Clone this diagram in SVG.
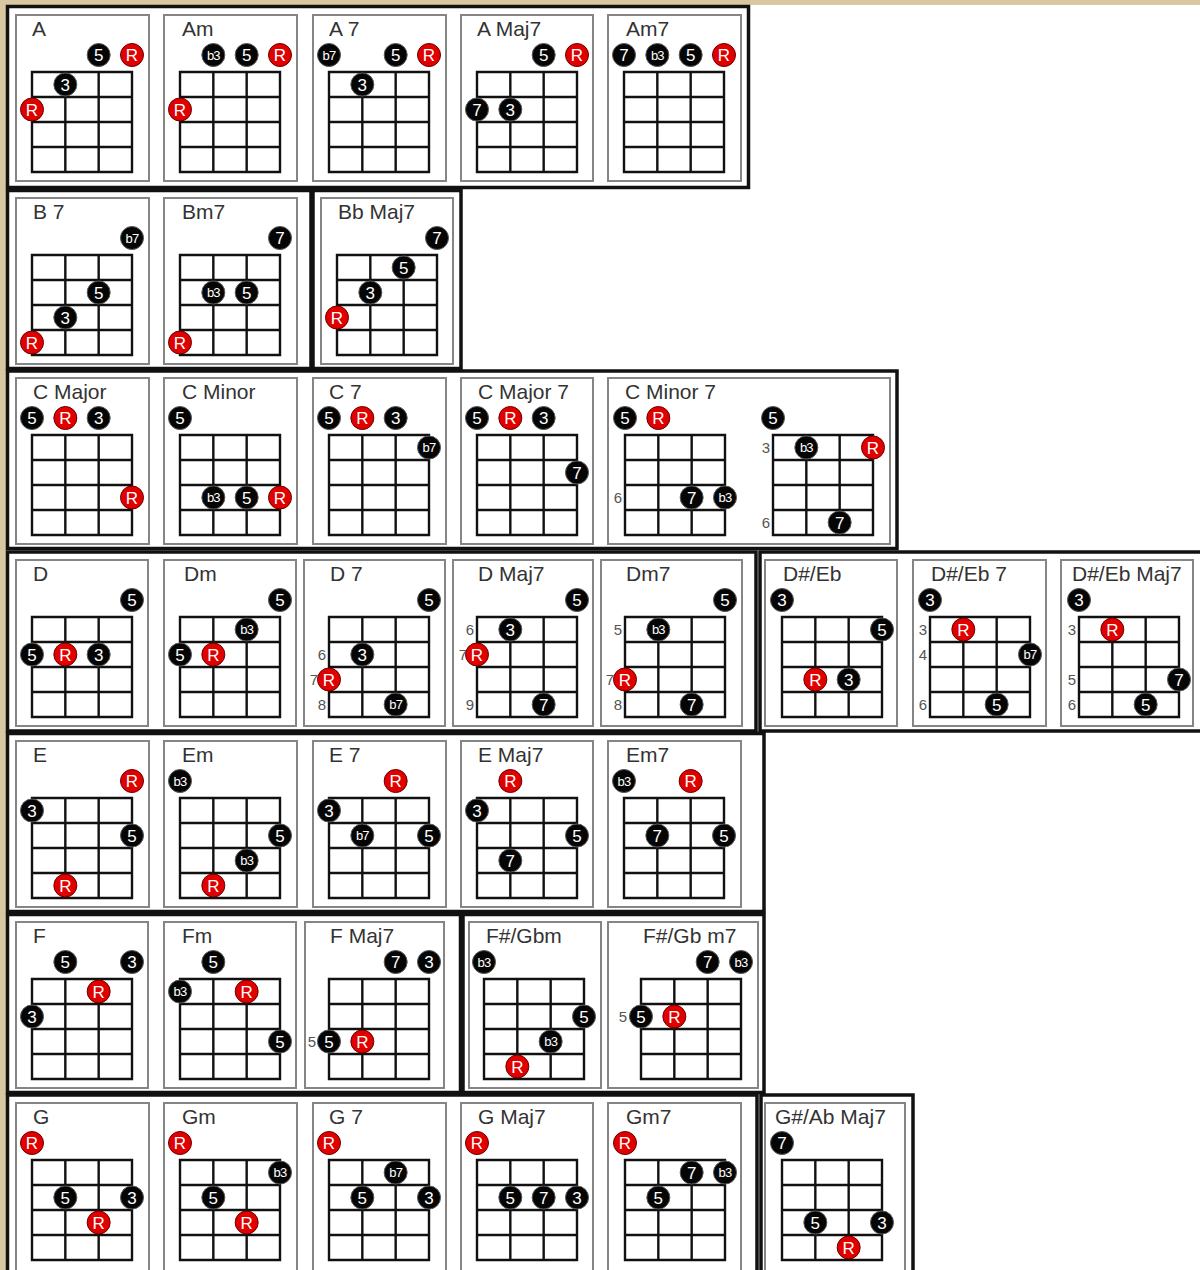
<svg xmlns="http://www.w3.org/2000/svg" xmlns:xlink="http://www.w3.org/1999/xlink" width="1200" height="1270" viewBox="0 0 1200 1270">
<defs>
<style>
.fr{fill:none;stroke:#111;stroke-width:3.5}
.cd{fill:#fff;stroke:#858585;stroke-width:2}
.gr{fill:none;stroke:#111;stroke-width:2.4}
.k{fill:#050505;stroke:#5a5a5a;stroke-width:1}
.r{fill:#e10000;stroke:#6a0000;stroke-width:1}
.t{font-family:"Liberation Sans",Arial,sans-serif;font-size:17px;fill:#fff;text-anchor:middle}
.s{font-size:13px;letter-spacing:-0.8px}
.ti{font-family:"Liberation Sans",Arial,sans-serif;font-size:21px;fill:#333}
.fn{font-family:"Liberation Sans",Arial,sans-serif;font-size:15px;fill:#555;text-anchor:end}
</style>
<symbol id="g" overflow="visible"><path class="gr" d="M0 0H100V100H0Z M33.33 0V100 M66.67 0V100 M0 25H100 M0 50H100 M0 75H100"/></symbol>
</defs>
<rect x="0" y="0" width="1200" height="1270" fill="#fff"/>
<rect x="0" y="0" width="1200" height="5" fill="#d8c7a0"/>
<rect x="0" y="0" width="6" height="1270" fill="#d8c7a0"/>

<g id="frames">
<rect class="fr" x="7.5" y="6.5" width="741" height="181"/>
<rect class="fr" x="7.5" y="190.5" width="303.5" height="178"/>
<rect class="fr" x="313" y="190.5" width="148" height="178"/>
<rect class="fr" x="7.5" y="371" width="889.5" height="177.5"/>
<rect class="fr" x="7.5" y="552" width="748.5" height="179"/>
<rect class="fr" x="760" y="552" width="445" height="179"/>
<rect class="fr" x="7.5" y="733.5" width="756.5" height="178"/>
<rect class="fr" x="7.5" y="914.5" width="453" height="178"/>
<rect class="fr" x="463" y="914.5" width="301" height="178"/>
<rect class="fr" x="7.5" y="1095" width="749.5" height="185"/>
<rect class="fr" x="761" y="1095" width="152" height="185"/>
</g>

<!-- Row 1 -->
<g id="chord-A">
<rect class="cd" x="16" y="15" width="133" height="166"/>
<text class="ti" x="32" y="36">A</text>
<use href="#g" x="32" y="72"/>
<circle class="k" cx="98.67" cy="55" r="11.5"/><text class="t" x="98.67" y="61">5</text>
<circle class="r" cx="132" cy="55" r="11.5"/><text class="t" x="132" y="61">R</text>
<circle class="k" cx="65.33" cy="84.5" r="11.5"/><text class="t" x="65.33" y="90.5">3</text>
<circle class="r" cx="32" cy="109.5" r="11.5"/><text class="t" x="32" y="115.5">R</text>
</g>
<g id="chord-Am">
<rect class="cd" x="164" y="15" width="133" height="166"/>
<text class="ti" x="182" y="36">Am</text>
<use href="#g" x="180" y="72"/>
<circle class="k" cx="213.33" cy="55" r="11.5"/><text class="t s" x="213.33" y="59.5">b3</text>
<circle class="k" cx="246.67" cy="55" r="11.5"/><text class="t" x="246.67" y="61">5</text>
<circle class="r" cx="280" cy="55" r="11.5"/><text class="t" x="280" y="61">R</text>
<circle class="r" cx="180" cy="109.5" r="11.5"/><text class="t" x="180" y="115.5">R</text>
</g>
<g id="chord-A7">
<rect class="cd" x="313" y="15" width="133" height="166"/>
<text class="ti" x="329" y="36">A 7</text>
<use href="#g" x="329" y="72"/>
<circle class="k" cx="329" cy="55" r="11.5"/><text class="t s" x="329" y="59.5">b7</text>
<circle class="k" cx="395.67" cy="55" r="11.5"/><text class="t" x="395.67" y="61">5</text>
<circle class="r" cx="429" cy="55" r="11.5"/><text class="t" x="429" y="61">R</text>
<circle class="k" cx="362.33" cy="84.5" r="11.5"/><text class="t" x="362.33" y="90.5">3</text>
</g>
<g id="chord-AMaj7">
<rect class="cd" x="461" y="15" width="132" height="166"/>
<text class="ti" x="477" y="36">A Maj7</text>
<use href="#g" x="477" y="72"/>
<circle class="k" cx="543.67" cy="55" r="11.5"/><text class="t" x="543.67" y="61">5</text>
<circle class="r" cx="577" cy="55" r="11.5"/><text class="t" x="577" y="61">R</text>
<circle class="k" cx="477" cy="109.5" r="11.5"/><text class="t" x="477" y="115.5">7</text>
<circle class="k" cx="510.33" cy="109.5" r="11.5"/><text class="t" x="510.33" y="115.5">3</text>
</g>
<g id="chord-Am7">
<rect class="cd" x="608" y="15" width="133" height="166"/>
<text class="ti" x="626" y="36">Am7</text>
<use href="#g" x="624" y="72"/>
<circle class="k" cx="624" cy="55" r="11.5"/><text class="t" x="624" y="61">7</text>
<circle class="k" cx="657.33" cy="55" r="11.5"/><text class="t s" x="657.33" y="59.5">b3</text>
<circle class="k" cx="690.67" cy="55" r="11.5"/><text class="t" x="690.67" y="61">5</text>
<circle class="r" cx="724" cy="55" r="11.5"/><text class="t" x="724" y="61">R</text>
</g>

<!-- Row 2 -->
<g id="chord-B7">
<rect class="cd" x="16" y="198" width="133" height="166"/>
<text class="ti" x="33" y="219">B 7</text>
<use href="#g" x="32" y="255"/>
<circle class="k" cx="132" cy="238" r="11.5"/><text class="t s" x="132" y="242.5">b7</text>
<circle class="k" cx="98.67" cy="292.5" r="11.5"/><text class="t" x="98.67" y="298.5">5</text>
<circle class="k" cx="65.33" cy="317.5" r="11.5"/><text class="t" x="65.33" y="323.5">3</text>
<circle class="r" cx="32" cy="342.5" r="11.5"/><text class="t" x="32" y="348.5">R</text>
</g>
<g id="chord-Bm7">
<rect class="cd" x="164" y="198" width="133" height="166"/>
<text class="ti" x="182" y="219">Bm7</text>
<use href="#g" x="180" y="255"/>
<circle class="k" cx="280" cy="238" r="11.5"/><text class="t" x="280" y="244">7</text>
<circle class="k" cx="213.33" cy="292.5" r="11.5"/><text class="t s" x="213.33" y="297">b3</text>
<circle class="k" cx="246.67" cy="292.5" r="11.5"/><text class="t" x="246.67" y="298.5">5</text>
<circle class="r" cx="180" cy="342.5" r="11.5"/><text class="t" x="180" y="348.5">R</text>
</g>
<g id="chord-BbMaj7">
<rect class="cd" x="321" y="198" width="132" height="166"/>
<text class="ti" x="338" y="219">Bb Maj7</text>
<use href="#g" x="337" y="255"/>
<circle class="k" cx="437" cy="238" r="11.5"/><text class="t" x="437" y="244">7</text>
<circle class="k" cx="403.67" cy="267.5" r="11.5"/><text class="t" x="403.67" y="273.5">5</text>
<circle class="k" cx="370.33" cy="292.5" r="11.5"/><text class="t" x="370.33" y="298.5">3</text>
<circle class="r" cx="337" cy="317.5" r="11.5"/><text class="t" x="337" y="323.5">R</text>
</g>

<!-- Row 3 -->
<g id="chord-CMajor">
<rect class="cd" x="16" y="378" width="133" height="166"/>
<text class="ti" x="33" y="399">C Major</text>
<use href="#g" x="32" y="435"/>
<circle class="k" cx="32" cy="418" r="11.5"/><text class="t" x="32" y="424">5</text>
<circle class="r" cx="65.33" cy="418" r="11.5"/><text class="t" x="65.33" y="424">R</text>
<circle class="k" cx="98.67" cy="418" r="11.5"/><text class="t" x="98.67" y="424">3</text>
<circle class="r" cx="132" cy="497.5" r="11.5"/><text class="t" x="132" y="503.5">R</text>
</g>
<g id="chord-CMinor">
<rect class="cd" x="164" y="378" width="133" height="166"/>
<text class="ti" x="182" y="399">C Minor</text>
<use href="#g" x="180" y="435"/>
<circle class="k" cx="180" cy="418" r="11.5"/><text class="t" x="180" y="424">5</text>
<circle class="k" cx="213.33" cy="497.5" r="11.5"/><text class="t s" x="213.33" y="502">b3</text>
<circle class="k" cx="246.67" cy="497.5" r="11.5"/><text class="t" x="246.67" y="503.5">5</text>
<circle class="r" cx="280" cy="497.5" r="11.5"/><text class="t" x="280" y="503.5">R</text>
</g>
<g id="chord-C7">
<rect class="cd" x="313" y="378" width="133" height="166"/>
<text class="ti" x="329" y="399">C 7</text>
<use href="#g" x="329" y="435"/>
<circle class="k" cx="329" cy="418" r="11.5"/><text class="t" x="329" y="424">5</text>
<circle class="r" cx="362.33" cy="418" r="11.5"/><text class="t" x="362.33" y="424">R</text>
<circle class="k" cx="395.67" cy="418" r="11.5"/><text class="t" x="395.67" y="424">3</text>
<circle class="k" cx="429" cy="447.5" r="11.5"/><text class="t s" x="429" y="452">b7</text>
</g>
<g id="chord-CMajor7">
<rect class="cd" x="461" y="378" width="132" height="166"/>
<text class="ti" x="478" y="399">C Major 7</text>
<use href="#g" x="477" y="435"/>
<circle class="k" cx="477" cy="418" r="11.5"/><text class="t" x="477" y="424">5</text>
<circle class="r" cx="510.33" cy="418" r="11.5"/><text class="t" x="510.33" y="424">R</text>
<circle class="k" cx="543.67" cy="418" r="11.5"/><text class="t" x="543.67" y="424">3</text>
<circle class="k" cx="577" cy="472.5" r="11.5"/><text class="t" x="577" y="478.5">7</text>
</g>
<g id="chord-CMinor7">
<rect class="cd" x="608" y="378" width="282" height="166"/>
<text class="ti" x="625" y="399">C Minor 7</text>
<use href="#g" x="625" y="435"/>
<circle class="k" cx="625" cy="418" r="11.5"/><text class="t" x="625" y="424">5</text>
<circle class="r" cx="658.33" cy="418" r="11.5"/><text class="t" x="658.33" y="424">R</text>
<circle class="k" cx="691.67" cy="497.5" r="11.5"/><text class="t" x="691.67" y="503.5">7</text>
<circle class="k" cx="725" cy="497.5" r="11.5"/><text class="t s" x="725" y="502">b3</text>
<text class="fn" x="622" y="503">6</text>
<use href="#g" x="773" y="435"/>
<circle class="k" cx="773" cy="418" r="11.5"/><text class="t" x="773" y="424">5</text>
<circle class="k" cx="806.33" cy="447.5" r="11.5"/><text class="t s" x="806.33" y="452">b3</text>
<circle class="r" cx="873" cy="447.5" r="11.5"/><text class="t" x="873" y="453.5">R</text>
<circle class="k" cx="839.67" cy="522.5" r="11.5"/><text class="t" x="839.67" y="528.5">7</text>
<text class="fn" x="770" y="453">3</text>
<text class="fn" x="770" y="528">6</text>
</g>

<!-- Row 4 -->
<g id="chord-D">
<rect class="cd" x="16" y="560" width="132" height="166"/>
<text class="ti" x="33" y="581">D</text>
<use href="#g" x="32" y="617"/>
<circle class="k" cx="132" cy="600" r="11.5"/><text class="t" x="132" y="606">5</text>
<circle class="k" cx="32" cy="654.5" r="11.5"/><text class="t" x="32" y="660.5">5</text>
<circle class="r" cx="65.33" cy="654.5" r="11.5"/><text class="t" x="65.33" y="660.5">R</text>
<circle class="k" cx="98.67" cy="654.5" r="11.5"/><text class="t" x="98.67" y="660.5">3</text>
</g>
<g id="chord-Dm">
<rect class="cd" x="164" y="560" width="132" height="166"/>
<text class="ti" x="184" y="581">Dm</text>
<use href="#g" x="180" y="617"/>
<circle class="k" cx="280" cy="600" r="11.5"/><text class="t" x="280" y="606">5</text>
<circle class="k" cx="246.67" cy="629.5" r="11.5"/><text class="t s" x="246.67" y="634">b3</text>
<circle class="k" cx="180" cy="654.5" r="11.5"/><text class="t" x="180" y="660.5">5</text>
<circle class="r" cx="213.33" cy="654.5" r="11.5"/><text class="t" x="213.33" y="660.5">R</text>
</g>
<g id="chord-D7">
<rect class="cd" x="304" y="560" width="141" height="166"/>
<text class="ti" x="330" y="581">D 7</text>
<use href="#g" x="329" y="617"/>
<circle class="k" cx="429" cy="600" r="11.5"/><text class="t" x="429" y="606">5</text>
<circle class="k" cx="362.33" cy="654.5" r="11.5"/><text class="t" x="362.33" y="660.5">3</text>
<circle class="r" cx="329" cy="679.5" r="11.5"/><text class="t" x="329" y="685.5">R</text>
<circle class="k" cx="395.67" cy="704.5" r="11.5"/><text class="t s" x="395.67" y="709">b7</text>
<text class="fn" x="326" y="660">6</text>
<text class="fn" x="318" y="685">7</text>
<text class="fn" x="326" y="710">8</text>
</g>
<g id="chord-DMaj7">
<rect class="cd" x="453" y="560" width="140" height="166"/>
<text class="ti" x="478" y="581">D Maj7</text>
<use href="#g" x="477" y="617"/>
<circle class="k" cx="577" cy="600" r="11.5"/><text class="t" x="577" y="606">5</text>
<circle class="k" cx="510.33" cy="629.5" r="11.5"/><text class="t" x="510.33" y="635.5">3</text>
<circle class="r" cx="477" cy="654.5" r="11.5"/><text class="t" x="477" y="660.5">R</text>
<circle class="k" cx="543.67" cy="704.5" r="11.5"/><text class="t" x="543.67" y="710.5">7</text>
<text class="fn" x="474" y="635">6</text>
<text class="fn" x="467" y="660">7</text>
<text class="fn" x="474" y="710">9</text>
</g>
<g id="chord-Dm7">
<rect class="cd" x="601" y="560" width="141" height="166"/>
<text class="ti" x="626" y="581">Dm7</text>
<use href="#g" x="625" y="617"/>
<circle class="k" cx="725" cy="600" r="11.5"/><text class="t" x="725" y="606">5</text>
<circle class="k" cx="658.33" cy="629.5" r="11.5"/><text class="t s" x="658.33" y="634">b3</text>
<circle class="r" cx="625" cy="679.5" r="11.5"/><text class="t" x="625" y="685.5">R</text>
<circle class="k" cx="691.67" cy="704.5" r="11.5"/><text class="t" x="691.67" y="710.5">7</text>
<text class="fn" x="622" y="635">5</text>
<text class="fn" x="614" y="685">7</text>
<text class="fn" x="622" y="710">8</text>
</g>
<g id="chord-DsharpEb">
<rect class="cd" x="765" y="560" width="132" height="166"/>
<text class="ti" x="783" y="581">D#/Eb</text>
<use href="#g" x="782" y="617"/>
<circle class="k" cx="782" cy="600" r="11.5"/><text class="t" x="782" y="606">3</text>
<circle class="k" cx="882" cy="629.5" r="11.5"/><text class="t" x="882" y="635.5">5</text>
<circle class="r" cx="815.33" cy="679.5" r="11.5"/><text class="t" x="815.33" y="685.5">R</text>
<circle class="k" cx="848.67" cy="679.5" r="11.5"/><text class="t" x="848.67" y="685.5">3</text>
</g>
<g id="chord-DsharpEb7">
<rect class="cd" x="913" y="560" width="133" height="166"/>
<text class="ti" x="931" y="581">D#/Eb 7</text>
<use href="#g" x="930" y="617"/>
<circle class="k" cx="930" cy="600" r="11.5"/><text class="t" x="930" y="606">3</text>
<circle class="r" cx="963.33" cy="629.5" r="11.5"/><text class="t" x="963.33" y="635.5">R</text>
<circle class="k" cx="1030" cy="654.5" r="11.5"/><text class="t s" x="1030" y="659">b7</text>
<circle class="k" cx="996.67" cy="704.5" r="11.5"/><text class="t" x="996.67" y="710.5">5</text>
<text class="fn" x="927" y="635">3</text>
<text class="fn" x="927" y="660">4</text>
<text class="fn" x="927" y="710">6</text>
</g>
<g id="chord-DsharpEbMaj7">
<rect class="cd" x="1061" y="560" width="132" height="166"/>
<text class="ti" x="1072" y="581">D#/Eb Maj7</text>
<use href="#g" x="1079" y="617"/>
<circle class="k" cx="1079" cy="600" r="11.5"/><text class="t" x="1079" y="606">3</text>
<circle class="r" cx="1112.33" cy="629.5" r="11.5"/><text class="t" x="1112.33" y="635.5">R</text>
<circle class="k" cx="1179" cy="679.5" r="11.5"/><text class="t" x="1179" y="685.5">7</text>
<circle class="k" cx="1145.67" cy="704.5" r="11.5"/><text class="t" x="1145.67" y="710.5">5</text>
<text class="fn" x="1076" y="635">3</text>
<text class="fn" x="1076" y="685">5</text>
<text class="fn" x="1076" y="710">6</text>
</g>

<!-- Row 5 -->
<g id="chord-E">
<rect class="cd" x="16" y="741" width="133" height="166"/>
<text class="ti" x="33" y="762">E</text>
<use href="#g" x="32" y="798"/>
<circle class="r" cx="132" cy="781" r="11.5"/><text class="t" x="132" y="787">R</text>
<circle class="k" cx="32" cy="810.5" r="11.5"/><text class="t" x="32" y="816.5">3</text>
<circle class="k" cx="132" cy="835.5" r="11.5"/><text class="t" x="132" y="841.5">5</text>
<circle class="r" cx="65.33" cy="885.5" r="11.5"/><text class="t" x="65.33" y="891.5">R</text>
</g>
<g id="chord-Em">
<rect class="cd" x="164" y="741" width="133" height="166"/>
<text class="ti" x="182" y="762">Em</text>
<use href="#g" x="180" y="798"/>
<circle class="k" cx="180" cy="781" r="11.5"/><text class="t s" x="180" y="785.5">b3</text>
<circle class="k" cx="280" cy="835.5" r="11.5"/><text class="t" x="280" y="841.5">5</text>
<circle class="k" cx="246.67" cy="860.5" r="11.5"/><text class="t s" x="246.67" y="865">b3</text>
<circle class="r" cx="213.33" cy="885.5" r="11.5"/><text class="t" x="213.33" y="891.5">R</text>
</g>
<g id="chord-E7">
<rect class="cd" x="313" y="741" width="133" height="166"/>
<text class="ti" x="329" y="762">E 7</text>
<use href="#g" x="329" y="798"/>
<circle class="r" cx="395.67" cy="781" r="11.5"/><text class="t" x="395.67" y="787">R</text>
<circle class="k" cx="329" cy="810.5" r="11.5"/><text class="t" x="329" y="816.5">3</text>
<circle class="k" cx="362.33" cy="835.5" r="11.5"/><text class="t s" x="362.33" y="840">b7</text>
<circle class="k" cx="429" cy="835.5" r="11.5"/><text class="t" x="429" y="841.5">5</text>
</g>
<g id="chord-EMaj7">
<rect class="cd" x="461" y="741" width="132" height="166"/>
<text class="ti" x="478" y="762">E Maj7</text>
<use href="#g" x="477" y="798"/>
<circle class="r" cx="510.33" cy="781" r="11.5"/><text class="t" x="510.33" y="787">R</text>
<circle class="k" cx="477" cy="810.5" r="11.5"/><text class="t" x="477" y="816.5">3</text>
<circle class="k" cx="577" cy="835.5" r="11.5"/><text class="t" x="577" y="841.5">5</text>
<circle class="k" cx="510.33" cy="860.5" r="11.5"/><text class="t" x="510.33" y="866.5">7</text>
</g>
<g id="chord-Em7">
<rect class="cd" x="608" y="741" width="133" height="166"/>
<text class="ti" x="626" y="762">Em7</text>
<use href="#g" x="624" y="798"/>
<circle class="k" cx="624" cy="781" r="11.5"/><text class="t s" x="624" y="785.5">b3</text>
<circle class="r" cx="690.67" cy="781" r="11.5"/><text class="t" x="690.67" y="787">R</text>
<circle class="k" cx="657.33" cy="835.5" r="11.5"/><text class="t" x="657.33" y="841.5">7</text>
<circle class="k" cx="724" cy="835.5" r="11.5"/><text class="t" x="724" y="841.5">5</text>
</g>

<!-- Row 6 -->
<g id="chord-F">
<rect class="cd" x="16" y="922" width="132" height="166"/>
<text class="ti" x="33" y="943">F</text>
<use href="#g" x="32" y="979"/>
<circle class="k" cx="65.33" cy="962" r="11.5"/><text class="t" x="65.33" y="968">5</text>
<circle class="k" cx="132" cy="962" r="11.5"/><text class="t" x="132" y="968">3</text>
<circle class="r" cx="98.67" cy="991.5" r="11.5"/><text class="t" x="98.67" y="997.5">R</text>
<circle class="k" cx="32" cy="1016.5" r="11.5"/><text class="t" x="32" y="1022.5">3</text>
</g>
<g id="chord-Fm">
<rect class="cd" x="164" y="922" width="132" height="166"/>
<text class="ti" x="182" y="943">Fm</text>
<use href="#g" x="180" y="979"/>
<circle class="k" cx="213.33" cy="962" r="11.5"/><text class="t" x="213.33" y="968">5</text>
<circle class="k" cx="180" cy="991.5" r="11.5"/><text class="t s" x="180" y="996">b3</text>
<circle class="r" cx="246.67" cy="991.5" r="11.5"/><text class="t" x="246.67" y="997.5">R</text>
<circle class="k" cx="280" cy="1041.5" r="11.5"/><text class="t" x="280" y="1047.5">5</text>
</g>
<g id="chord-FMaj7">
<rect class="cd" x="305" y="922" width="139" height="166"/>
<text class="ti" x="330" y="943">F Maj7</text>
<use href="#g" x="329" y="979"/>
<circle class="k" cx="395.67" cy="962" r="11.5"/><text class="t" x="395.67" y="968">7</text>
<circle class="k" cx="429" cy="962" r="11.5"/><text class="t" x="429" y="968">3</text>
<circle class="k" cx="329" cy="1041.5" r="11.5"/><text class="t" x="329" y="1047.5">5</text>
<circle class="r" cx="362.33" cy="1041.5" r="11.5"/><text class="t" x="362.33" y="1047.5">R</text>
<text class="fn" x="316" y="1047">5</text>
</g>
<g id="chord-FsharpGbm">
<rect class="cd" x="469" y="922" width="132" height="166"/>
<text class="ti" x="486" y="943">F#/Gbm</text>
<use href="#g" x="484" y="979"/>
<circle class="k" cx="484" cy="962" r="11.5"/><text class="t s" x="484" y="966.5">b3</text>
<circle class="k" cx="584" cy="1016.5" r="11.5"/><text class="t" x="584" y="1022.5">5</text>
<circle class="k" cx="550.67" cy="1041.5" r="11.5"/><text class="t s" x="550.67" y="1046">b3</text>
<circle class="r" cx="517.33" cy="1066.5" r="11.5"/><text class="t" x="517.33" y="1072.5">R</text>
</g>
<g id="chord-FsharpGbm7">
<rect class="cd" x="608" y="922" width="150" height="166"/>
<text class="ti" x="643" y="943">F#/Gb m7</text>
<use href="#g" x="641" y="979"/>
<circle class="k" cx="707.67" cy="962" r="11.5"/><text class="t" x="707.67" y="968">7</text>
<circle class="k" cx="741" cy="962" r="11.5"/><text class="t s" x="741" y="966.5">b3</text>
<circle class="k" cx="641" cy="1016.5" r="11.5"/><text class="t" x="641" y="1022.5">5</text>
<circle class="r" cx="674.33" cy="1016.5" r="11.5"/><text class="t" x="674.33" y="1022.5">R</text>
<text class="fn" x="627" y="1022">5</text>
</g>

<!-- Row 7 -->
<g id="chord-G">
<rect class="cd" x="16" y="1103" width="133" height="180"/>
<text class="ti" x="33" y="1124">G</text>
<use href="#g" x="32" y="1160"/>
<circle class="r" cx="32" cy="1143" r="11.5"/><text class="t" x="32" y="1149">R</text>
<circle class="k" cx="65.33" cy="1197.5" r="11.5"/><text class="t" x="65.33" y="1203.5">5</text>
<circle class="k" cx="132" cy="1197.5" r="11.5"/><text class="t" x="132" y="1203.5">3</text>
<circle class="r" cx="98.67" cy="1222.5" r="11.5"/><text class="t" x="98.67" y="1228.5">R</text>
</g>
<g id="chord-Gm">
<rect class="cd" x="164" y="1103" width="133" height="180"/>
<text class="ti" x="182" y="1124">Gm</text>
<use href="#g" x="180" y="1160"/>
<circle class="r" cx="180" cy="1143" r="11.5"/><text class="t" x="180" y="1149">R</text>
<circle class="k" cx="280" cy="1172.5" r="11.5"/><text class="t s" x="280" y="1177">b3</text>
<circle class="k" cx="213.33" cy="1197.5" r="11.5"/><text class="t" x="213.33" y="1203.5">5</text>
<circle class="r" cx="246.67" cy="1222.5" r="11.5"/><text class="t" x="246.67" y="1228.5">R</text>
</g>
<g id="chord-G7">
<rect class="cd" x="313" y="1103" width="133" height="180"/>
<text class="ti" x="329" y="1124">G 7</text>
<use href="#g" x="329" y="1160"/>
<circle class="r" cx="329" cy="1143" r="11.5"/><text class="t" x="329" y="1149">R</text>
<circle class="k" cx="395.67" cy="1172.5" r="11.5"/><text class="t s" x="395.67" y="1177">b7</text>
<circle class="k" cx="362.33" cy="1197.5" r="11.5"/><text class="t" x="362.33" y="1203.5">5</text>
<circle class="k" cx="429" cy="1197.5" r="11.5"/><text class="t" x="429" y="1203.5">3</text>
</g>
<g id="chord-GMaj7">
<rect class="cd" x="461" y="1103" width="132" height="180"/>
<text class="ti" x="478" y="1124">G Maj7</text>
<use href="#g" x="477" y="1160"/>
<circle class="r" cx="477" cy="1143" r="11.5"/><text class="t" x="477" y="1149">R</text>
<circle class="k" cx="510.33" cy="1197.5" r="11.5"/><text class="t" x="510.33" y="1203.5">5</text>
<circle class="k" cx="543.67" cy="1197.5" r="11.5"/><text class="t" x="543.67" y="1203.5">7</text>
<circle class="k" cx="577" cy="1197.5" r="11.5"/><text class="t" x="577" y="1203.5">3</text>
</g>
<g id="chord-Gm7">
<rect class="cd" x="608" y="1103" width="133" height="180"/>
<text class="ti" x="626" y="1124">Gm7</text>
<use href="#g" x="625" y="1160"/>
<circle class="r" cx="625" cy="1143" r="11.5"/><text class="t" x="625" y="1149">R</text>
<circle class="k" cx="691.67" cy="1172.5" r="11.5"/><text class="t" x="691.67" y="1178.5">7</text>
<circle class="k" cx="725" cy="1172.5" r="11.5"/><text class="t s" x="725" y="1177">b3</text>
<circle class="k" cx="658.33" cy="1197.5" r="11.5"/><text class="t" x="658.33" y="1203.5">5</text>
</g>
<g id="chord-GsharpAbMaj7">
<rect class="cd" x="765" y="1103" width="140" height="180"/>
<text class="ti" x="775" y="1124">G#/Ab Maj7</text>
<use href="#g" x="782" y="1160"/>
<circle class="k" cx="782" cy="1143" r="11.5"/><text class="t" x="782" y="1149">7</text>
<circle class="k" cx="815.33" cy="1222.5" r="11.5"/><text class="t" x="815.33" y="1228.5">5</text>
<circle class="k" cx="882" cy="1222.5" r="11.5"/><text class="t" x="882" y="1228.5">3</text>
<circle class="r" cx="848.67" cy="1247.5" r="11.5"/><text class="t" x="848.67" y="1253.5">R</text>
</g>
</svg>
